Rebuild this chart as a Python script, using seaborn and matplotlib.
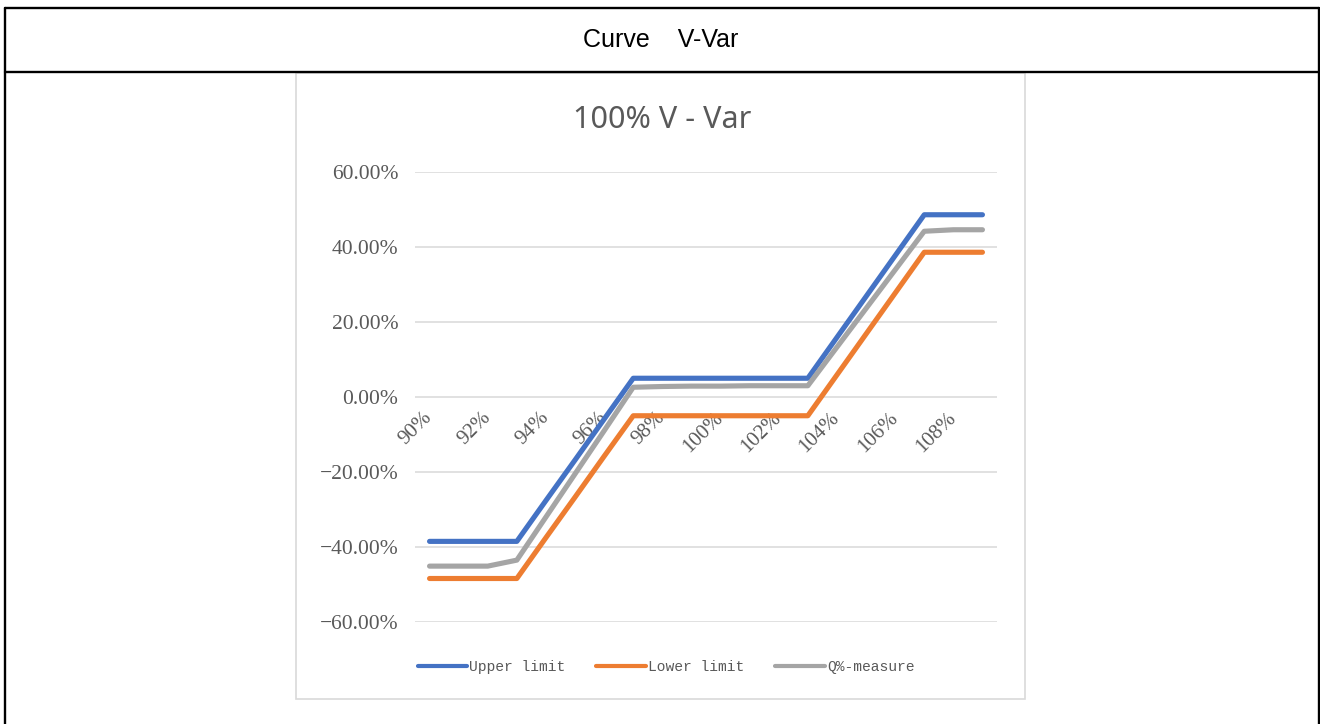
import numpy as np
import pandas as pd
import matplotlib
matplotlib.use("Agg")
import matplotlib.pyplot as plt
import seaborn as sns
from matplotlib.lines import Line2D
from matplotlib.patches import Rectangle
from matplotlib.ticker import FuncFormatter

# -----------------------------
# data (percent)
# -----------------------------
voltage = list(range(90, 110))          # 90% .. 109%
upper_limit = [-38.5, -38.5, -38.5, -38.5, -27.6, -16.8, -5.9, 5.0, 5.0, 5.0,
               5.0, 5.0, 5.0, 5.0, 15.9, 26.8, 37.7, 48.6, 48.6, 48.6]
lower_limit = [-48.4, -48.4, -48.4, -48.4, -37.5, -26.7, -15.8, -5.0, -5.0, -5.0,
               -5.0, -5.0, -5.0, -5.0, 5.9, 16.8, 27.7, 38.6, 38.6, 38.6]
q_measure = [-45.1, -45.1, -45.1, -43.5, -32.0, -20.5, -9.0, 2.6, 2.8, 2.9,
             2.9, 3.0, 3.0, 3.0, 13.3, 23.6, 33.9, 44.2, 44.6, 44.6]
series_names = ["Upper limit", "Lower limit", "Q%-measure"]
series_colors = ["#4472C4", "#ED7D31", "#A5A5A5"]
x_tick_values = list(range(90, 110, 2))
y_tick_values = [-60, -40, -20, 0, 20, 40, 60]

df = pd.DataFrame({
    "V": voltage * 3,
    "Q": upper_limit + lower_limit + q_measure,
    "series": np.repeat(series_names, len(voltage)),
})

# -----------------------------
# figure
# -----------------------------
sns.set_theme(style="white")
plt.rcParams["font.family"] = ["DejaVu Sans"]

W, H = 1320, 724
fig = plt.figure(figsize=(W / 100, H / 100), dpi=100)


def fx(px):
    return px / W


def fy(py):
    return 1 - py / H


# table frame around the chart
frame_kw = dict(color="black", lw=1.7, transform=fig.transFigure)
fig.add_artist(Line2D([fx(4.5), fx(1319)], [fy(7.5), fy(7.5)], **frame_kw))
fig.add_artist(Line2D([fx(4.5), fx(1319)], [fy(72), fy(72)], **frame_kw))
fig.add_artist(Line2D([fx(4.5), fx(4.5)], [fy(7.5), fy(724)], **frame_kw))
fig.add_artist(Line2D([fx(1319), fx(1319)], [fy(7.5), fy(724)], **frame_kw))
fig.text(fx(661), fy(40), "Curve    V-Var", ha="center", va="center",
         fontsize=18, family="Liberation Sans", color="black")

# excel chart box
fig.add_artist(Rectangle((fx(296), fy(699)), fx(1025) - fx(296), fy(73) - fy(699),
                         transform=fig.transFigure, fill=False,
                         edgecolor="#D9D9D9", lw=1.2))
fig.text(fx(662), fy(120), "100% V - Var", ha="center", va="center",
         fontsize=22, family="Noto Sans", color="#595959")

ax = fig.add_axes([fx(415), fy(622), fx(997) - fx(415), fy(172) - fy(622)])
sns.lineplot(data=df, x="V", y="Q", hue="series", hue_order=series_names,
             palette=series_colors, linewidth=3.7, ax=ax, legend=False,
             solid_capstyle="round", solid_joinstyle="round")

ax.set_xlim(89.5, 109.5)
ax.set_ylim(-60, 60)
ax.set_yticks(y_tick_values)
ax.yaxis.set_major_formatter(FuncFormatter(lambda v, p: f"{v:.2f}%".replace("-", "\u2212")))
ax.set_xticks(x_tick_values)
ax.set_xticklabels([f"{v}%" for v in x_tick_values])
ax.set_xlabel("")
ax.set_ylabel("")

for s in ax.spines.values():
    s.set_color("none")
ax.spines["bottom"].set_position(("data", 0))
ax.grid(axis="y", color="#D9D9D9", lw=1.1)
ax.grid(axis="x", visible=False)
ax.set_axisbelow(True)

ax.tick_params(axis="y", length=0, pad=12, labelsize=15.5, labelcolor="#595959")
ax.tick_params(axis="x", length=0, pad=13, labelsize=15, labelcolor="#595959")
for lab in ax.get_yticklabels():
    lab.set_family("Liberation Serif")
for lab in ax.get_xticklabels():
    lab.set_family("Liberation Serif")
    lab.set_rotation(45)
    lab.set_ha("right")
    lab.set_va("center")
    lab.set_rotation_mode("anchor")

handles = [Line2D([], [], color=c, lw=3, solid_capstyle="round") for c in series_colors]
fig.legend(handles, series_names, loc="center", bbox_to_anchor=(fx(666), fy(667)),
           ncol=3, frameon=False, handlelength=3.4, handletextpad=0.15,
           columnspacing=2.1, prop={"family": "Liberation Mono", "size": 10.5},
           labelcolor="#595959")

fig.savefig("out.png", dpi=100)
